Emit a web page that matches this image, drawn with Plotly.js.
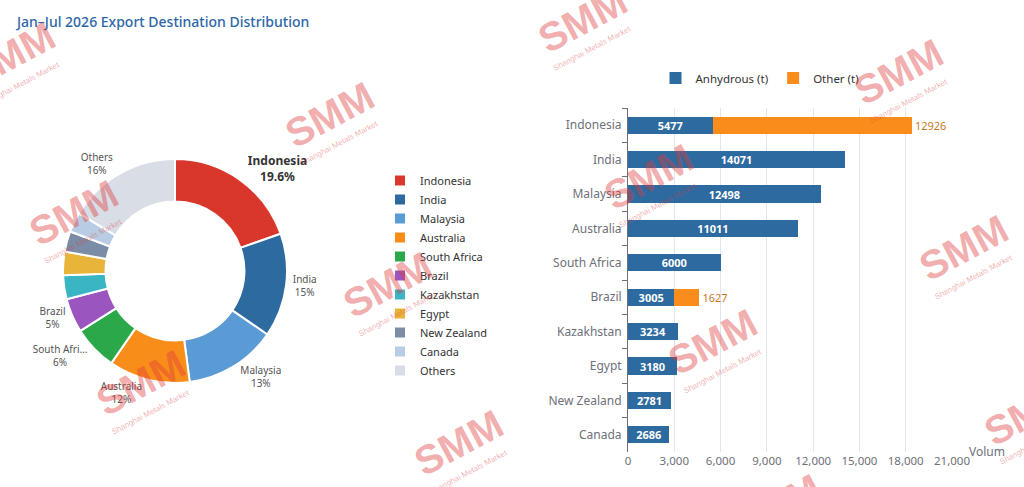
<!DOCTYPE html>
<html>
<head>
<meta charset="utf-8">
<script src="https://cdn.plot.ly/plotly-3.0.1.min.js"></script>
<style>
html,body{margin:0;padding:0;background:#fff;overflow:hidden}
#chart{width:1024px;height:487px}
</style>
</head>
<body>
<div id="chart"></div>
<script>
// ---- Pie data ----
const pieLabels = ['Indonesia','India','Malaysia','Australia','South Africa','Brazil','Kazakhstan','Egypt','New Zealand','Canada','Others'];
const pieValues = [18403,14071,12498,11011,6000,4632,3234,3180,2781,2686,15397];
const pieShownLabels = ['Indonesia','India','Malaysia','Australia','South Afri…','Brazil','','','','','Others'];
const pieColors = ['#D9372C','#2D6AA0','#5B9BD5','#F98D1A','#2BA84A','#9B55BE','#3AB5C4','#E8B53A','#7A8CA6','#B8CDE3','#D8DDE6'];

// ---- Bar data ----
const barCategories = ['Indonesia','India','Malaysia','Australia','South Africa','Brazil','Kazakhstan','Egypt','New Zealand','Canada'];
const anhydrousValues = [5477,14071,12498,11011,6000,3005,3234,3180,2781,2686];
const otherValues = [12926,null,null,null,null,1627,null,null,null,null];
const xTickValues = [0,3000,6000,9000,12000,15000,18000,21000];

const W = 1024, H = 487;
const px = v => v / W;
const py = v => 1 - v / H;

const pieTrace = {
  type: 'pie',
  labels: pieLabels,
  values: pieValues,
  text: pieShownLabels,
  sort: false,
  direction: 'clockwise',
  rotation: 0,
  hole: 0.62,
  domain: {x: [px(63), px(287)], y: [py(383), py(159)]},
  marker: {colors: pieColors, line: {color: '#ffffff', width: 2}},
  textinfo: 'none',
  textposition: 'outside',
  texttemplate: pieShownLabels.map((t, i) => t === '' ? '' :
    (i === 0 ? '<b>%{text}</b><br><b>%{percent:.1%}</b>' : '%{text}<br>%{percent:.0%}')),
  textfont: {
    size: pieShownLabels.map((t, i) => i === 0 ? 12 : 10),
    color: pieShownLabels.map((t, i) => i === 0 ? '#333333' : '#555555')
  },
  automargin: false,
  hoverinfo: 'none',
  legend: 'legend'
};

const anhydrousTrace = {
  type: 'bar', orientation: 'h', name: 'Anhydrous (t)',
  y: barCategories, x: anhydrousValues,
  xaxis: 'x', yaxis: 'y', legend: 'legend2',
  marker: {color: '#2D6AA0'},
  texttemplate: '<b>%{x:d}</b>',
  textposition: 'inside', insidetextanchor: 'middle', constraintext: 'none',
  textfont: {color: '#ffffff', size: 11},
  hoverinfo: 'none'
};

const otherTrace = {
  type: 'bar', orientation: 'h', name: 'Other (t)',
  y: barCategories, x: otherValues,
  xaxis: 'x', yaxis: 'y', legend: 'legend2',
  marker: {color: '#F98C1A'},
  texttemplate: '%{x:d}',
  textposition: 'outside', constraintext: 'none',
  textfont: {color: '#C8781E', size: 11},
  cliponaxis: false,
  hoverinfo: 'none'
};

// watermark spots (pixel centres of the "SMM" stamps)
const watermarkSpots = [[10,55],[73,213],[140,383],[329,115],[387,285],[458,443],
  [582,20],[648,177],[712,342],[776,507],[898,72],[963,248],[1028,413]];
const wmColor = 'rgba(222,60,60,0.42)';
const annotations = [];
watermarkSpots.forEach(([x, y]) => {
  annotations.push({xref:'paper', yref:'paper', x: px(x), y: py(y), xanchor:'center', yanchor:'middle',
    text:'SMM', showarrow:false, textangle:-28,
    font:{family:'Liberation Sans, Arial, sans-serif', size:40, weight:'bold', color: wmColor}});
  annotations.push({xref:'paper', yref:'paper', x: px(x + 10), y: py(y + 29), xanchor:'center', yanchor:'middle',
    text:'Shanghai Metals Market', showarrow:false, textangle:-28,
    font:{family:'Liberation Sans, Arial, sans-serif', size:8, color: wmColor}});
});
annotations.push({xref:'paper', yref:'paper', x: px(967), y: py(451), xanchor:'left', yanchor:'middle',
  text:'Volum', showarrow:false, font:{size:12, color:'#6E7079'}});

const layout = {
  width: W, height: H,
  margin: {l:0, r:0, t:0, b:0},
  paper_bgcolor: '#ffffff', plot_bgcolor: 'rgba(0,0,0,0)',
  font: {family: 'Noto Sans, sans-serif', color: '#6E7079'},
  title: {text: 'Jan–Jul 2026 Export Destination Distribution', xref:'paper', yref:'paper',
    x: px(17), xanchor:'left', y: py(22), yanchor:'middle',
    font: {size: 14, color: '#2B66A8', weight: 500}},
  barmode: 'stack', bargap: 0.5,
  xaxis: {domain: [px(628), px(952)], range: [0, 21000], tickvals: xTickValues, tickformat: ',d',
    showgrid: true, gridcolor: '#E0E6F1', zeroline: false, showline: false, ticks: '',
    tickfont: {size: 11.5, color: '#6E7079'}, fixedrange: true},
  yaxis: {domain: [py(452), py(108)], autorange: 'reversed', type: 'category',
    showline: true, linecolor: '#6E7079', linewidth: 1, ticks: 'outside', ticklen: 5, tickcolor: '#6E7079',
    tickson: 'boundaries', ticklabelstandoff: 3, showgrid: false, tickfont: {size: 12, color: '#6E7079'}, fixedrange: true},
  legend: {x: px(380), xanchor: 'left', y: py(166), yanchor: 'top', bgcolor: 'rgba(0,0,0,0)',
    font: {size: 11, color: '#333333'}},
  legend2: {orientation: 'h', traceorder: 'normal', x: px(760), xanchor: 'center', y: py(78), yanchor: 'middle',
    bgcolor: 'rgba(0,0,0,0)', font: {size: 11.5, color: '#333333'}},
  annotations: annotations
};

Plotly.newPlot('chart', [pieTrace, anhydrousTrace, otherTrace], layout, {displayModeBar: false, staticPlot: true});
</script>
</body>
</html>
